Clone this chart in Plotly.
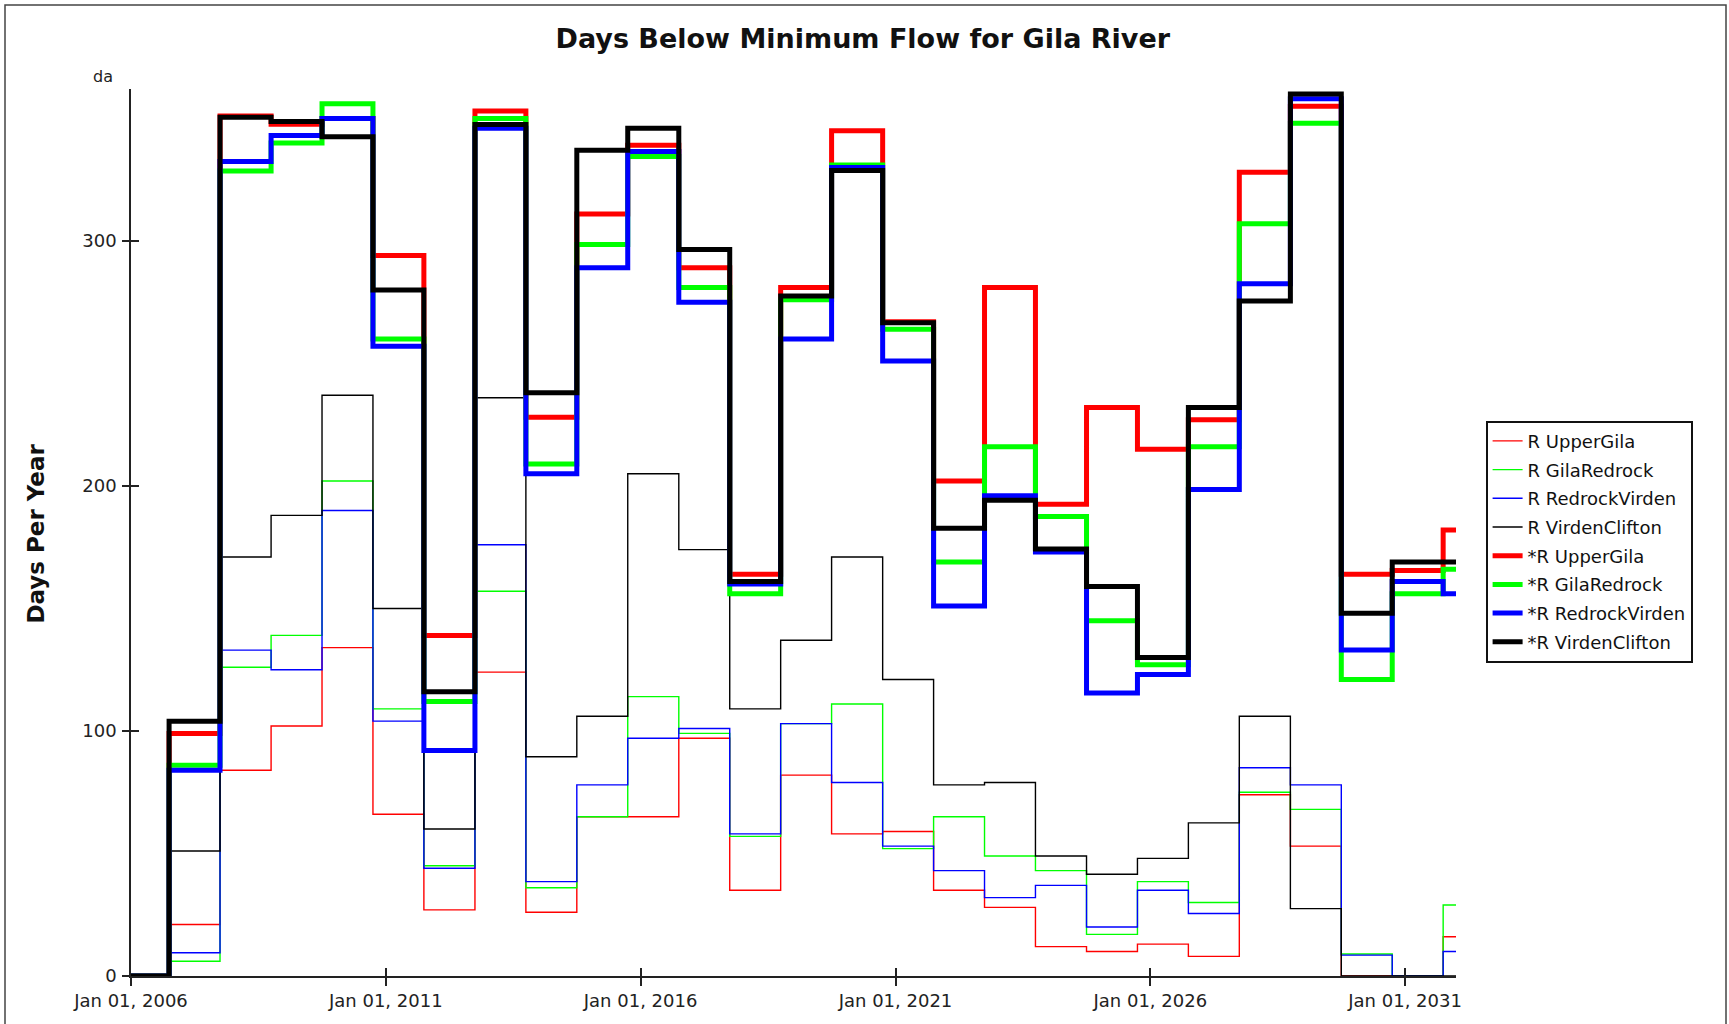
import plotly.graph_objects as go

# Water years (step starts Oct 1 of each listed year)
water_years = list(range(2006, 2032))
start_date = "2006-01-01"
end_date = "2032-01-01"
initial_value = 0

# Thin series (R ...)
r_uppergila = [21, 84, 102, 134, 66, 27, 124, 26, 65, 65, 97, 35, 82, 58, 59, 35, 28, 12, 10, 13, 8, 74, 53, 0, 0, 16]
r_gilaredrock = [6, 126, 139, 202, 109, 45, 157, 36, 65, 114, 99, 57, 103, 111, 52, 65, 49, 43, 17, 38.5, 30, 75, 68, 9, 0, 29]
r_redrockvirden = [9.5, 133, 125, 190, 104, 44, 176, 38.5, 78, 97, 101, 58, 103, 79, 53, 43, 32, 37, 20, 35, 25.5, 85, 78, 8.5, 0, 10]
r_virdenclifton = [51, 171, 188, 237, 150, 60, 236, 89.5, 106, 205, 174, 109, 137, 171, 121, 78, 79, 49, 41.5, 48, 62.5, 106, 27.5, 0, 0, 0]

# Thick series (*R ...)
sr_uppergila = [99, 351, 347.6, 350, 294, 139, 353, 228, 311, 339, 289, 164, 281, 345, 267, 202, 281, 192.5, 232, 215, 227, 328, 355, 164, 165.5, 182]
sr_gilaredrock = [86, 328.5, 340, 356, 260, 112, 350, 209, 298.5, 334.5, 281, 156, 276, 331, 264, 169, 216, 187.5, 145, 127, 216, 307, 348, 121, 156, 166]
sr_redrockvirden = [84, 332.4, 343, 350, 257, 92, 346, 205, 289, 336.5, 275, 160, 260, 330, 251, 151, 196, 173, 115.5, 123, 198.5, 282.5, 358, 133, 161, 156]
sr_virdenclifton = [104, 350.5, 348.7, 342.5, 280, 116, 347.5, 238, 337, 346, 296.5, 161, 277.5, 328.7, 266.6, 182.7, 194.2, 174.3, 159, 130, 232, 275.5, 360, 148, 169, 169]

series = [
    ("R UpperGila", r_uppergila, "#ff0000", 1.4),
    ("R GilaRedrock", r_gilaredrock, "#00ff00", 1.4),
    ("R RedrockVirden", r_redrockvirden, "#0000ff", 1.4),
    ("R VirdenClifton", r_virdenclifton, "#000000", 1.4),
    ("*R UpperGila", sr_uppergila, "#ff0000", 5),
    ("*R GilaRedrock", sr_gilaredrock, "#00ff00", 5),
    ("*R RedrockVirden", sr_redrockvirden, "#0000ff", 5),
    ("*R VirdenClifton", sr_virdenclifton, "#000000", 5),
]

x_dates = [start_date] + [f"{y}-10-01" for y in water_years] + [end_date]

fig = go.Figure()
for name, vals, color, w in series:
    yv = [initial_value] + list(vals) + [vals[-1]]
    fig.add_trace(go.Scatter(
        x=x_dates, y=yv, mode="lines", name=name, legendgroup=name,
        line=dict(color=color, width=w, shape="hv"),
    ))

# dummy trace for overlay tick axes
fig.add_trace(go.Scatter(x=[None], y=[None], xaxis="x2", yaxis="y2",
                         showlegend=False, hoverinfo="skip"))

L, R, T, B = 131, 273, 89, 48
W, H = 1729, 1024
pw = W - L - R
ph = H - T - B

def px(xp):
    return (xp - L) / pw

def py(yp):
    return (H - B - yp) / ph

tick_font = dict(family="DejaVu Sans", size=18, color="#222222")
ytick_font = dict(family="DejaVu Sans", size=18, color="#222222")

fig.update_layout(
    width=W, height=H,
    margin=dict(l=L, r=R, t=T, b=B),
    paper_bgcolor="white", plot_bgcolor="white",
    title=dict(text="<b>Days Below Minimum Flow for Gila River</b>",
               font=dict(family="DejaVu Sans", size=27, color="#111111"),
               xref="container", x=862.8 / W, xanchor="center",
               yref="container", y=1 - 38.6 / H, yanchor="middle"),
    xaxis=dict(type="date", range=[start_date, end_date],
               tick0="2006-01-01", dtick="M60", tickformat="%b %d, %Y",
               ticks="outside", ticklen=8, tickwidth=1.5, tickcolor="#222222",
               showline=True, linecolor="#222222", linewidth=1.5,
               showgrid=False, zeroline=False, tickfont=tick_font),
    yaxis=dict(range=[0, 362], tick0=0, dtick=100,
               ticks="inside", ticklen=8, tickwidth=1.5, tickcolor="#222222",
               showline=True, linecolor="#222222", linewidth=1.5,
               showgrid=False, zeroline=False, tickfont=ytick_font,
               ticklabelstandoff=9),
    xaxis2=dict(type="date", overlaying="x", matches="x", anchor="y", side="bottom",
                tick0="2006-01-01", dtick="M60", ticks="inside", ticklen=8,
                tickwidth=1.5, tickcolor="#222222", showticklabels=False,
                showline=False, showgrid=False, zeroline=False),
    yaxis2=dict(overlaying="y", matches="y", anchor="x", side="left",
                tick0=0, dtick=100, ticks="outside", ticklen=8,
                tickwidth=1.5, tickcolor="#222222", showticklabels=False,
                showline=False, showgrid=False, zeroline=False),
    legend=dict(x=px(1485.6), xanchor="left", y=py(420.7), yanchor="top",
                bgcolor="white", bordercolor="#111111", borderwidth=2,
                font=dict(family="DejaVu Sans", size=18, color="#111111"),
                traceorder="grouped", tracegroupgap=2.3),
    showlegend=True,
    annotations=[
        dict(text="<b>Days Per Year</b>", xref="paper", yref="paper",
             x=px(36), y=py(533.6), textangle=-90, showarrow=False,
             font=dict(family="DejaVu Sans", size=23, color="#111111"),
             xanchor="center", yanchor="middle"),
        dict(text="da", xref="paper", yref="paper", x=px(103), y=py(77),
             showarrow=False, xanchor="center", yanchor="middle",
             font=dict(family="DejaVu Sans", size=16, color="#222222")),
    ],
    shapes=[
        dict(type="rect", xref="paper", yref="paper",
             x0=px(5), x1=px(1726), y0=py(1040), y1=py(5),
             line=dict(color="#444444", width=1.5), fillcolor="rgba(0,0,0,0)",
             layer="below"),
    ],
)

fig.write_html("out.html",
               config={"displayModeBar": False},
               post_script="document.body.style.margin='0px';document.body.style.overflow='hidden';")
